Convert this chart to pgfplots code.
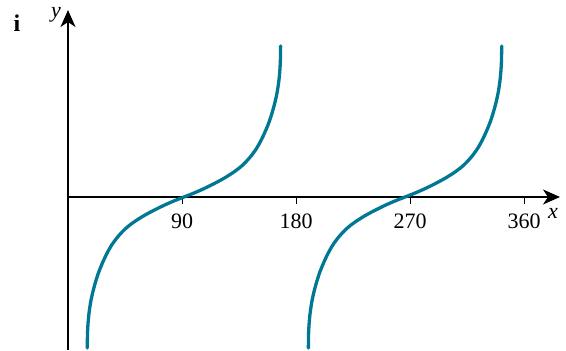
\documentclass[border=0pt]{standalone}
\usepackage{fontspec}
\setmainfont{Liberation Serif}
\usepackage{pgfplots}
\pgfplotsset{compat=1.18}
\usetikzlibrary{arrows.meta}
\definecolor{curve}{RGB}{0,120,148}
\begin{document}
\begin{tikzpicture}[x=1pt,y=1pt]
\path[use as bounding box] (0,0) rectangle (566,351);
\begin{axis}[
  at={(68pt,1pt)}, anchor=south west,
  scale only axis, width=492pt, height=340pt,
  xmin=0, xmax=388.3, ymin=-153, ymax=187,
  axis lines=middle,
  axis line style={line width=1.5pt},
  every inner x axis line/.append style={-{Stealth[length=17pt,width=15pt,inset=5pt]}},
  every inner y axis line/.append style={-{Stealth[length=17pt,width=15pt,inset=5pt]}},
  xtick={90,180,270,360}, ytick=\empty,
  tick align=outside, major tick length=7pt,
  tick style={black, line width=0.9pt},
  /pgf/number format/assume math mode=true,
  xticklabel style={font=\fontsize{22}{26}\selectfont, yshift=-6pt},
  clip=false,
]
\addplot[curve, line width=3.3pt, line cap=round, smooth] coordinates {
(15.2,-151) (15.4,-136) (15.9,-125) (16.7,-115) (17.9,-105) (19.5,-95.5) (21.5,-86)
(24,-76) (27,-66.5) (30.5,-57) (34.5,-48) (39.5,-39.5) (45.5,-31.5) (51.5,-25.5)
(59.5,-19) (67.5,-13.5) (75.5,-8.5) (83.5,-4)
(91.5,0) (99.5,4) (107.5,8.5) (115.5,13.5) (123.5,19) (131.5,25.5) (137.5,31.5)
(143.5,39.5) (148.5,48) (152.5,57) (156,66.5) (159,76) (161.5,86) (163.5,95.5)
(165.1,105) (166.3,115) (167.1,125) (167.6,136) (167.8,151)
};
\addplot[curve, line width=3.3pt, line cap=round, smooth] coordinates {
(189.7,-151) (189.9,-136) (190.4,-125) (191.2,-115) (192.4,-105) (194,-95.5) (196,-86)
(198.5,-76) (201.5,-66.5) (205,-57) (209,-48) (214,-39.5) (220,-31.5) (226,-25.5)
(234,-19) (242,-13.5) (250,-8.5) (258,-4)
(266,0) (274,4) (282,8.5) (290,13.5) (298,19) (306,25.5) (312,31.5)
(318,39.5) (323,48) (327,57) (330.5,66.5) (333.5,76) (336,86) (338,95.5)
(339.6,105) (340.8,115) (341.6,125) (342.1,136) (342.3,151)
};
\end{axis}
\node[font=\fontsize{22}{26}\selectfont\itshape] at (56,336) {y};
\node[font=\fontsize{22}{26}\selectfont\itshape] at (553,138) {x};
\node[font=\fontsize{24}{28}\selectfont\bfseries, anchor=base] at (17,319) {i};
\end{tikzpicture}
\end{document}
